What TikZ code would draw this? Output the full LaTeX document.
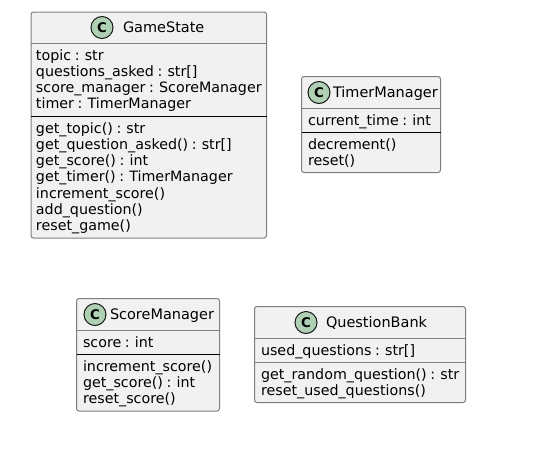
\documentclass[tikz,border=0pt]{standalone}
\usepackage{fontspec}
\setmainfont[WordSpace=0.8]{DejaVu Sans}
\definecolor{boxfill}{HTML}{F1F1F1}
\definecolor{boxline}{HTML}{7F7F7F}
\definecolor{badge}{HTML}{ADD1B2}
\definecolor{badgeline}{HTML}{181818}
\tikzset{
  x=0.75pt,y=-0.75pt,
  classbox/.style={draw=boxline,fill=boxfill,line width=0.75pt,rounded corners=1.9pt},
  member/.style={anchor=base west,inner sep=0pt,outer sep=0pt,font=\fontsize{10.7pt}{12pt}\selectfont,text=black},
  classname/.style={member,font=\fontsize{10.85pt}{12pt}\selectfont},
  badgenode/.style={circle,draw=badgeline,fill=badge,line width=0.75pt,minimum size=16.5pt,inner sep=0pt,font=\fontsize{10pt}{10pt}\bfseries\selectfont,text=black},
  softsep/.style={draw=boxline,line width=0.75pt},
  hardsep/.style={draw=black,line width=0.75pt},
}
\begin{document}
\begin{tikzpicture}
\useasboundingbox (0,0) rectangle (549,457);
% GameState
\draw[classbox] (31,12) rectangle (266.5,238);
\draw[softsep] (31,43) -- (266.5,43);
\draw[hardsep] (31,116.5) -- (266.5,116.5);
\node[badgenode] (gsb) at (102,27.5) {C};
\node[classname] (gsn) at (123,32.5) {GameState};
\node[member] (g1) at (36,60) {topic : str};
\node[member] (g2) at (36,76.3) {questions\_asked : str[]};
\node[member] (g3) at (36,92.6) {score\_manager : ScoreManager};
\node[member] (g4) at (36,108.9) {timer : TimerManager};
\node[member] (g5) at (36,133) {get\_topic() : str};
\node[member] (g6) at (36,149.3) {get\_question\_asked() : str[]};
\node[member] (g7) at (36,165.6) {get\_score() : int};
\node[member] (g8) at (36,181.9) {get\_timer() : TimerManager};
\node[member] (g9) at (36,198.2) {increment\_score()};
\node[member] (g10) at (36,214.5) {add\_question()};
\node[member] (g11) at (36,230.8) {reset\_game()};
% TimerManager
\draw[classbox] (301.5,76.5) rectangle (440.5,172.5);
\draw[softsep] (301.5,108) -- (440.5,108);
\draw[hardsep] (301.5,132) -- (440.5,132);
\node[badgenode] (tmb) at (319,92.5) {C};
\node[classname] (tmn) at (333,97.5) {TimerManager};
\node[member] (t1) at (308,125) {current\_time : int};
\node[member] (t2) at (308,149) {decrement()};
\node[member] (t3) at (308,165.3) {reset()};
% ScoreManager
\draw[classbox] (76.5,298.5) rectangle (219.5,411);
\draw[softsep] (76.5,330) -- (219.5,330);
\draw[hardsep] (76.5,354) -- (219.5,354);
\node[badgenode] (smb) at (95,314.5) {C};
\node[classname] (smn) at (110,319.5) {ScoreManager};
\node[member] (s1) at (83,347) {score : int};
\node[member] (s2) at (83,371) {increment\_score()};
\node[member] (s3) at (83,387.3) {get\_score() : int};
\node[member] (s4) at (83,403.6) {reset\_score()};
% QuestionBank
\draw[classbox] (254.5,306.5) rectangle (465.5,402.5);
\draw[softsep] (254.5,338) -- (465.5,338);
\draw[softsep] (254.5,362) -- (465.5,362);
\node[badgenode] (qbb) at (306,322.5) {C};
\node[classname] (qbn) at (326,327.5) {QuestionBank};
\node[member] (q1) at (261,355) {used\_questions : str[]};
\node[member] (q2) at (261,379) {get\_random\_question() : str};
\node[member] (q3) at (261,395.3) {reset\_used\_questions()};
\end{tikzpicture}
\end{document}
